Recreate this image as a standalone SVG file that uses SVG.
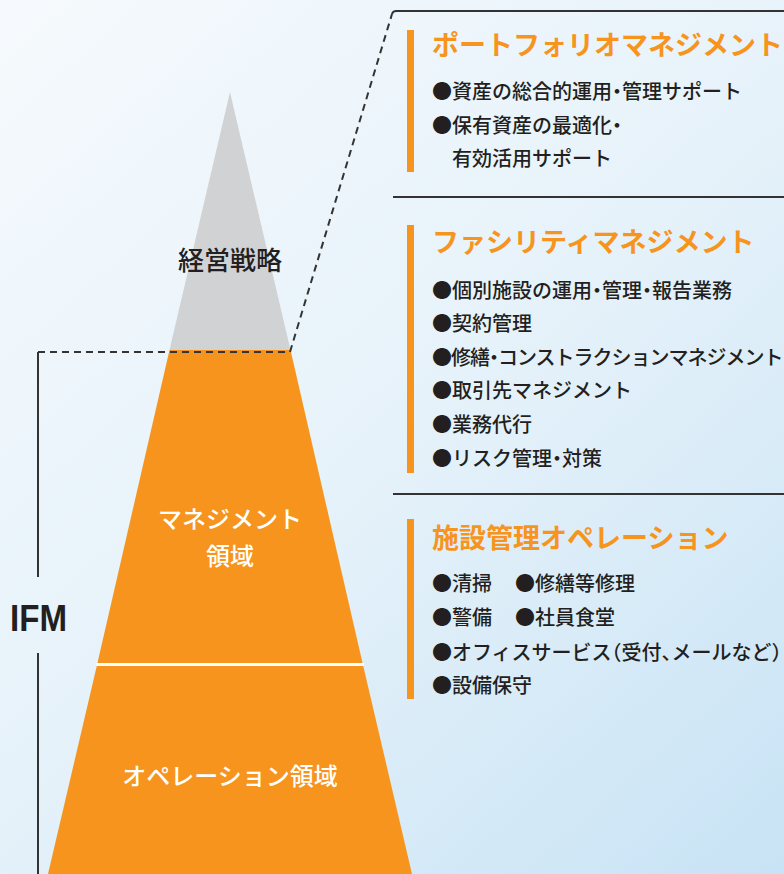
<svg xmlns="http://www.w3.org/2000/svg" width="784" height="874" viewBox="0 0 784 874">
<defs>
<linearGradient id="bg" gradientUnits="userSpaceOnUse" x1="0" y1="0" x2="784" y2="874">
<stop offset="0" stop-color="#f6fafd"/>
<stop offset="0.5" stop-color="#e6f2fa"/>
<stop offset="1" stop-color="#c8e3f5"/>
</linearGradient>
<style>
.jp{font-family:"Noto Sans CJK JP","Noto Sans CJK SC",sans-serif}
.hd{font-size:27px;font-weight:700;fill:#f7941d}
.bd{font-size:20px;font-weight:500;fill:#231f20}
.pw{font-size:24px;font-weight:500;fill:#ffffff;text-anchor:middle}
.ln{stroke:#333333;stroke-width:2;fill:none}
.dash{stroke:#333333;stroke-width:2;fill:none;stroke-dasharray:7 5}
.bar{fill:#f7941d}
</style>
</defs>
<rect width="784" height="874" fill="url(#bg)"/>

<g id="pyramid">
<polygon id="apex" points="230,92 169.5,350 290.5,350" fill="#d1d2d4"/>
<polygon id="management" points="169.5,350 290.5,350 363,665 97,665" fill="#f7941d"/>
<polygon id="operation" points="97,665 363,665 412,874 48,874" fill="#f7941d"/>
<line x1="96" y1="664.5" x2="364" y2="664.5" stroke="#ffffff" stroke-width="3"/>
<text class="jp" x="230" y="270" font-size="26" font-weight="500" fill="#231f20" text-anchor="middle">経営戦略</text>
<text class="jp pw" x="230" y="528">マネジメント</text>
<text class="jp pw" x="230" y="565">領域</text>
<text class="jp pw" x="230" y="785">オペレーション領域</text>
</g>

<g id="connectors">
<path class="dash" d="M38,352 L290,352 L392,14"/>
<path class="ln" d="M392,14 Q393,11 396,11 L784,11"/>
<path class="ln" d="M38,352 L38,577"/>
<path class="ln" d="M38,653 L38,874"/>
<line class="ln" x1="393" y1="197" x2="784" y2="197"/>
<line class="ln" x1="393" y1="494" x2="784" y2="494"/>
</g>

<g id="ifm">
<text x="10" y="631" font-family="'Liberation Sans',Arial,sans-serif" font-size="36" font-weight="700" fill="#231f20" textLength="57" lengthAdjust="spacingAndGlyphs">IFM</text>
</g>

<g id="portfolio">
<rect class="bar" x="407" y="30" width="7" height="142"/>
<text class="jp hd" x="432" y="55">ポートフォリオマネジメント</text>
<text class="jp bd" x="432" y="99">●資産の総合的運用<tspan dx="-5">・</tspan><tspan dx="-5">管</tspan>理サポート</text>
<text class="jp bd" x="432" y="133">●保有資産の最適化<tspan dx="-5">・</tspan></text>
<text class="jp bd" x="452" y="166">有効活用サポート</text>
</g>

<g id="facility">
<rect class="bar" x="407" y="225" width="7" height="248"/>
<text class="jp hd" x="432" y="252">ファシリティマネジメント</text>
<text class="jp bd" x="432" y="298">●個別施設の運用<tspan dx="-5">・</tspan><tspan dx="-5">管</tspan>理<tspan dx="-5">・</tspan><tspan dx="-5">報</tspan>告業務</text>
<text class="jp bd" x="432" y="331">●契約管理</text>
<text class="jp bd" x="432" y="365" letter-spacing="-1">●修繕<tspan dx="-5">・</tspan><tspan dx="-5">コ</tspan>ンストラクションマネジメント</text>
<text class="jp bd" x="432" y="398">●取引先マネジメント</text>
<text class="jp bd" x="432" y="432">●業務代行</text>
<text class="jp bd" x="432" y="466">●リスク管理<tspan dx="-5">・</tspan><tspan dx="-5">対</tspan>策</text>
</g>

<g id="operations">
<rect class="bar" x="407" y="519" width="7" height="180"/>
<text class="jp hd" x="432" y="548" font-size="28">施設管理オペレーション</text>
<text class="jp bd" x="432" y="591">●清掃</text>
<text class="jp bd" x="515" y="591">●修繕等修理</text>
<text class="jp bd" x="432" y="625">●警備</text>
<text class="jp bd" x="515" y="625">●社員食堂</text>
<text class="jp bd" x="432" y="660">●オフィスサービス<tspan dx="-10">（</tspan>受付、<tspan dx="-10">メ</tspan>ールなど）</text>
<text class="jp bd" x="432" y="693">●設備保守</text>
</g>
</svg>
